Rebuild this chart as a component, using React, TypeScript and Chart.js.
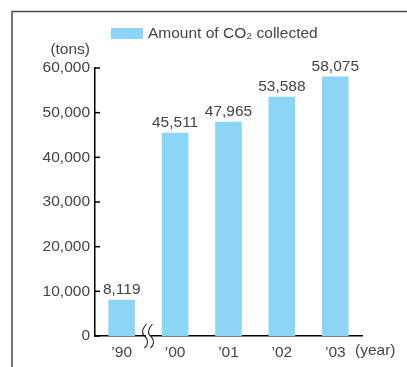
import React, { useEffect, useRef } from "react";
import { Chart, registerables } from "chart.js";

Chart.register(...registerables);

const categories = ["\u201990", "\u201900", "\u201901", "\u201902", "\u201903"];
const co2Values = [8119, 45511, 47965, 53588, 58075];
const yTicks = [0, 10000, 20000, 30000, 40000, 50000, 60000];
const seriesName = "Amount of CO\u2082 collected";
const yUnit = "(tons)";
const xUnit = "(year)";

const BAR = "#8cd5f6";
const TEXT = "#444444";
const FONT = "'Liberation Sans', Arial, sans-serif";
const FSIZE = 15.5;

const fmt = (v: number) => v.toLocaleString("en-US");

const decorPlugin = {
  id: "decor",
  beforeDraw(chart: any) {
    const ctx = chart.ctx;
    ctx.save();
    ctx.fillStyle = "#fff";
    ctx.fillRect(0, 0, chart.width, chart.height);
    // frame
    ctx.strokeStyle = "#4a4a4a";
    ctx.lineWidth = 1.5;
    ctx.beginPath();
    ctx.moveTo(12, chart.height);
    ctx.lineTo(12, 11.5);
    ctx.lineTo(chart.width, 11.5);
    ctx.stroke();
    ctx.restore();
  },
  afterDraw(chart: any) {
    const ctx = chart.ctx;
    const x = chart.scales.x;
    const y = chart.scales.y;
    const area = chart.chartArea;
    ctx.save();
    // inward ticks on y axis
    ctx.strokeStyle = "#000";
    ctx.lineWidth = 1.5;
    yTicks.forEach((t) => {
      const py = y.getPixelForValue(t);
      ctx.beginPath();
      ctx.moveTo(area.left, py);
      ctx.lineTo(area.left + 5, py);
      ctx.stroke();
    });
    // legend
    ctx.fillStyle = BAR;
    ctx.fillRect(111, 28, 32, 11);
    ctx.fillStyle = TEXT;
    ctx.font = `${FSIZE}px ${FONT}`;
    ctx.textAlign = "left";
    ctx.textBaseline = "middle";
    ctx.fillText(seriesName, 148, 34);
    // units
    ctx.textAlign = "right";
    ctx.fillText(yUnit, 90, 50);
    ctx.textAlign = "left";
    ctx.fillText(xUnit, 355, 351);
    // value labels
    const meta = chart.getDatasetMeta(0);
    ctx.textAlign = "center";
    ctx.textBaseline = "alphabetic";
    meta.data.forEach((bar: any, i: number) => {
      ctx.fillText(fmt(co2Values[i]), bar.x, bar.y - 6);
    });
    // axis break marks
    const bx = (x.getPixelForValue(0) + x.getPixelForValue(1)) / 2;
    const by = area.bottom;
    ctx.fillStyle = "#fff";
    ctx.fillRect(bx - 2.5, by - 2, 5, 4);
    ctx.strokeStyle = "#222";
    ctx.lineWidth = 1.1;
    [-3, 3].forEach((dx) => {
      const cx = bx + dx;
      ctx.beginPath();
      ctx.moveTo(cx + 1, by - 12);
      ctx.bezierCurveTo(cx - 4, by - 6, cx - 4, by - 2, cx, by + 1);
      ctx.bezierCurveTo(cx + 3, by + 4, cx + 3, by + 9, cx - 1, by + 12);
      ctx.stroke();
    });
    ctx.restore();
  },
};

export default function App() {
  const ref = useRef<HTMLCanvasElement>(null);
  useEffect(() => {
    document.body.style.margin = "0";
    const chart = new Chart(ref.current!, {
      type: "bar",
      data: {
        labels: categories,
        datasets: [
          {
            label: seriesName,
            data: co2Values,
            backgroundColor: BAR,
            barPercentage: 0.5,
            categoryPercentage: 1,
          },
        ],
      },
      options: {
        responsive: false,
        animation: false,
        layout: { padding: { left: 0, right: 45, top: 68, bottom: 0 } },
        plugins: { legend: { display: false }, tooltip: { enabled: false } },
        scales: {
          x: {
            grid: { display: false, drawTicks: false },
            border: { display: true, color: "#000", width: 1.5 },
            ticks: { color: TEXT, font: { family: FONT, size: FSIZE }, padding: 7 },
            afterFit: (s: any) => {
              s.height = 31;
            },
          },
          y: {
            min: 0,
            max: 60000,
            grid: { display: false, drawTicks: false },
            border: { display: true, color: "#000", width: 1.5 },
            ticks: {
              stepSize: 10000,
              color: TEXT,
              font: { family: FONT, size: FSIZE },
              padding: 5,
              callback: (v: any) => fmt(Number(v)),
            },
            afterFit: (s: any) => {
              s.width = 95;
            },
          },
        },
      },
      plugins: [decorPlugin],
    });
    return () => chart.destroy();
  }, []);
  return <canvas ref={ref} width={407} height={367} style={{ display: "block" }} />;
}
